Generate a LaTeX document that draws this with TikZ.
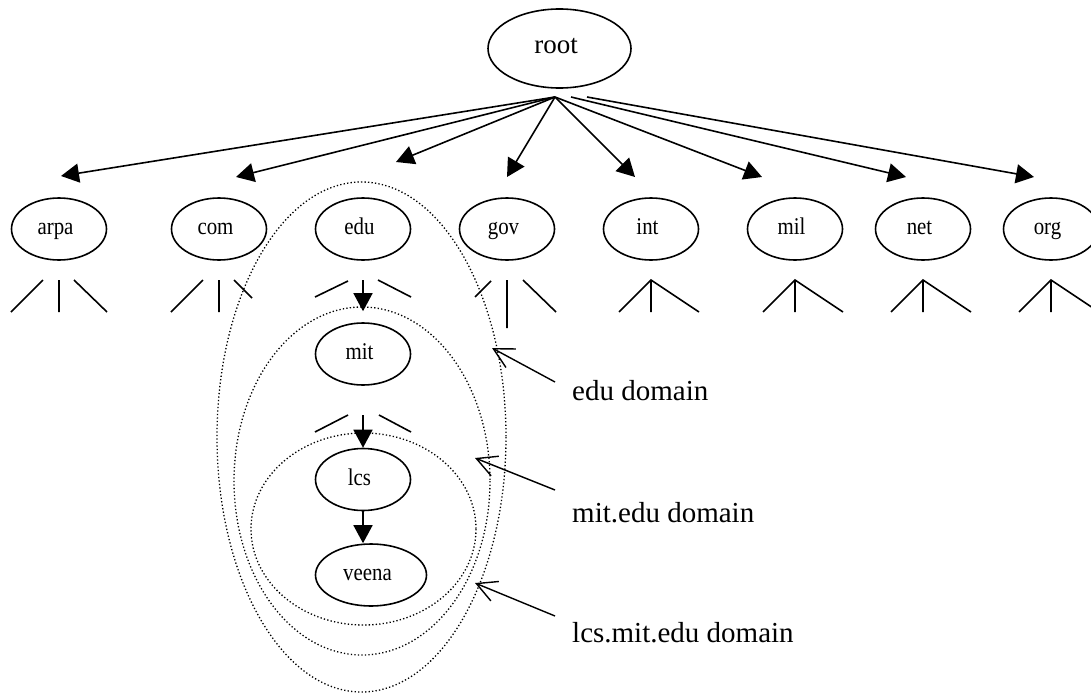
\documentclass[tikz,border=0pt]{standalone}
\usepackage{fontspec}
\setmainfont{Liberation Serif}
\newfontfamily\narrowserif[FakeStretch=0.87]{Liberation Serif}
\usetikzlibrary{shapes.geometric,arrows.meta}
\begin{document}
\begin{tikzpicture}[x=1pt,y=-1pt,
  el/.style={draw,ellipse,line width=1.6pt,inner sep=0pt,minimum width=95pt,minimum height=62pt,
    font=\narrowserif\fontsize{24}{28}\selectfont,text height=16pt,text depth=5pt,
    execute at begin node=\kern-7pt},
  arr/.style={line width=1.6pt,-{Triangle[length=18pt,width=19pt]}},
  tri/.style={line width=1.6pt},
  dom/.style={line width=1.3pt,dash pattern=on 1.3pt off 2.2pt},
  ptr/.style={line width=1.4pt,-{Straight Barb[length=20pt,width=21pt,line width=1.4pt]}},
  lab/.style={anchor=base west,inner sep=0pt,font=\fontsize{29}{34}\selectfont}]
\clip (0,0) rectangle (1091,693);
% nodes
\node[el,minimum width=143pt,minimum height=79pt,font=\fontsize{27}{32}\selectfont,execute at begin node={}] (root) at (559.5,48.5) {root};
\node[el] (arpa) at (59,229) {arpa};
\node[el] (com) at (219,229) {com};
\node[el] (edu) at (363,229) {edu};
\node[el] (gov) at (507,229) {gov};
\node[el] (int) at (651,229) {int};
\node[el] (mil) at (795,229) {mil};
\node[el] (net) at (923,229) {net};
\node[el] (org) at (1051,229) {org};
\node[el] (mit) at (363,354) {mit};
\node[el] (lcs) at (363,479.5) {lcs};
\node[el,minimum width=111pt] (veena) at (371,575) {veena};
% root arrows
\coordinate (r0) at (555,97);
\coordinate (r1) at (571,97);
\coordinate (r2) at (587,97);
\coordinate (ta) at (61,176);
\coordinate (tc) at (236,177);
\coordinate (te) at (396,162);
\coordinate (tg) at (507,177);
\coordinate (ti) at (635,177);
\coordinate (tm) at (762,177);
\coordinate (tn) at (906,177);
\coordinate (to) at (1034,177);
\draw[arr] (r0) -- (ta);
\draw[arr] (r0) -- (tc);
\draw[arr] (r0) -- (te);
\draw[arr] (r0) -- (tg);
\draw[arr] (r0) -- (ti);
\draw[arr] (r0) -- (tm);
\draw[arr] (r1) -- (tn);
\draw[arr] (r2) -- (to);
% subtree marks
\draw[tri] (11,312) -- (43,280) (59,280) -- (59,312) (74,280) -- (107,312);
\draw[tri] (171,312) -- (203,280) (219,280) -- (219,312) (234,280) -- (252,298);
\draw[tri] (315,297) -- (348,281) (378,280) -- (411,297);
\draw[tri] (475,297) -- (491,281) (507,280) -- (507,328) (523,280) -- (556,312);
\foreach \c in {651,795,923,1051}{
  \draw[tri] (\c-32,312) -- (\c,280) -- (\c+48,312) (\c,280) -- (\c,312);
}
\draw[tri] (315,432) -- (348,415) (379,415) -- (411,432);
% chain arrows
\coordinate (e1) at (363,280);
\coordinate (m1) at (363,415);
\draw[arr,shorten >=11pt] (e1) -- (mit.north);
\draw[arr] (m1) -- (lcs.north);
\draw[arr] (lcs.south) -- (lcs.south |- veena.north);
% domains
\draw[dom] (361.5,437) ellipse [x radius=144.5, y radius=255];
\draw[dom] (362,481) ellipse [x radius=128, y radius=174];
\draw[dom] (363.5,529) ellipse [x radius=112.5, y radius=96];
% labels
\node[lab] (l1) at (572,400) {edu domain};
\node[lab] (l2) at (572,522) {mit.edu domain};
\node[lab] (l3) at (572,642) {lcs.mit.edu domain};
\coordinate (p1) at (555,382);
\coordinate (q1) at (492,348);
\coordinate (p2) at (555,490);
\coordinate (q2) at (475,458);
\coordinate (p3) at (555,616);
\coordinate (q3) at (475,583);
\draw[ptr] (p1) -- (q1);
\draw[ptr] (p2) -- (q2);
\draw[ptr] (p3) -- (q3);
\end{tikzpicture}
\end{document}
